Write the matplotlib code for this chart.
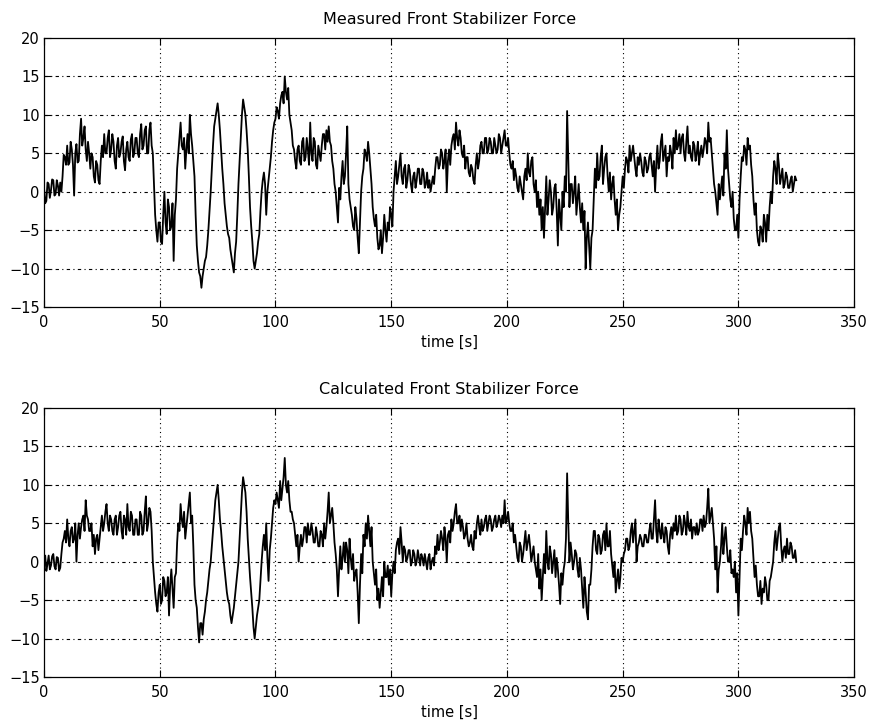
import matplotlib
matplotlib.use('Agg')
import matplotlib.pyplot as plt
import numpy as np

plt.rcParams['font.family'] = ['DejaVu Sans']

# Forces read at whole seconds (t = 0, 1, 2, ...)
measured = [
    0.5, -1.2, 1.0, 0.2, 1.5, -0.3, 0.8, 1.2, 2.0, 4.5,
    6.0, 3.8, 5.5, -0.5, 6.2, 4.0, 9.5, 7.0, 5.5, 6.5,
    3.0, 4.5, 1.2, 3.5, 1.0, 6.0, 7.5, 5.0, 8.0, 5.5,
    6.5, 3.0, 7.0, 5.0, 7.2, 2.8, 6.5, 4.0, 7.5, 5.0,
    7.0, 4.5, 8.8, 6.0, 8.5, 5.0, 9.0, 5.0, -3.0, -6.5,
    -4.0, -6.8, 0.0, -5.5, -2.0, -4.5, -9.0, -1.0, 5.0, 9.0,
    5.5, 3.0, 7.5, 10.0, 6.0, 2.0, -7.0, -10.5, -12.5, -10.0,
    -8.5, -5.0, 0.0, 6.0, 9.5, 11.5, 8.0, 3.0, -1.5, -4.5,
    -6.0, -8.5, -10.5, -6.5, 1.0, 7.0, 12.0, 10.0, 5.5, -2.0,
    -6.5, -10.0, -8.0, -5.5, 0.0, 2.5, -3.0, 1.5, 4.5, 8.0,
    9.5, 10.5, 11.5, 13.0, 15.0, 12.0, 10.0, 8.0, 5.5, 3.0,
    6.0, 3.5, 7.0, 4.5, 5.5, 9.0, 4.0, 6.5, 3.0, 5.0,
    6.0, 7.5, 8.0, 8.5, 6.0, 3.0, 0.0, -4.0, -1.0, 4.0,
    2.0, 8.5, -1.0, -3.0, -5.0, -3.5, -8.0, 0.0, 3.0, 5.0,
    6.5, 3.0, -2.0, -4.5, -6.0, -7.0, -8.0, -3.0, -6.5, -5.0,
    -3.0, 0.0, 4.0, 2.0, 5.0, 1.0, 3.5, 1.5, 2.8, 0.0,
    2.5, 1.5, 3.0, 1.0, 2.5, 1.0, 0.5, 0.0, 2.0, 3.0,
    4.5, 3.5, 5.0, 4.0, 0.0, 5.5, 6.0, 7.5, 9.0, 6.0,
    7.0, 4.5, 3.0, 4.5, 2.0, 3.0, 1.0, 5.0, 4.0, 6.5,
    5.0, 7.0, 5.5, 6.5, 5.0, 6.0, 5.5, 7.0, 6.0, 8.0,
    6.0, 5.0, 3.0, 1.5, 2.0, 0.0, 1.0, -1.0, 3.0, 5.0,
    2.0, 4.5, 0.0, -2.0, -3.0, -5.0, -6.0, 2.0, -1.0, 0.0,
    -2.0, 1.0, -7.0, -3.0, 0.0, 2.0, 10.5, -2.0, 1.0, 0.0,
    -3.0, 1.0, -4.0, -5.0, -10.0, -4.0, -10.0, -5.0, 3.0, 5.0,
    2.0, 6.0, 3.0, 5.0, 0.0, -1.0, 2.0, -3.0, -5.0, -2.0,
    2.0, 3.0, 4.0, 6.0, 5.0, 4.5, 2.0, 3.5, 4.0, 2.0,
    4.0, 3.0, 5.0, 2.0, 0.0, 6.0, 4.0, 7.5, 5.0, 2.0,
    4.0, 5.0, 7.0, 8.0, 6.0, 5.0, 7.5, 4.0, 8.5, 6.0,
    4.0, 6.0, 5.0, 3.5, 6.0, 5.5, 6.5, 9.0, 7.0, 3.0,
    0.0, -3.0, -1.0, 2.0, 5.0, 8.0, 1.0, -2.0, -3.5, -5.0,
    -6.0, 2.0, 4.0, 5.5, 7.0, 6.0, 2.0, -3.0, -5.0, -7.0,
    -5.0, -3.0, -6.5, -5.0, 0.0, 2.0, 3.0, 5.0, 1.0, 3.0,
    1.0, 2.0, 0.5, 2.0, 1.0, 1.5,
]

# Forces read at half seconds (t = 0.5, 1.5, 2.5, ...)
measured_half = [
    -1.5, 1.2, -0.8, 1.6, -0.5, 1.5, -0.5, 0.0, 4.8, 3.5,
    3.5, 6.5, 3.5, 5.0, 3.8, 7.5, 6.0, 8.5, 4.0, 5.0,
    5.0, 2.0, 4.0, 1.5, 4.0, 4.5, 5.0, 7.0, 4.5, 7.5,
    4.0, 6.0, 4.5, 6.5, 4.0, 5.5, 4.5, 6.8, 4.5, 7.0,
    5.0, 7.5, 5.5, 8.0, 5.0, 8.0, 6.0, 1.0, -5.0, -4.0,
    -6.5, -3.0, -4.0, -1.0, -5.0, -1.5, -3.0, 3.0, 7.0, 6.0,
    7.0, 5.5, 5.0, 7.5, 4.0, -3.0, -9.0, -11.0, -11.0, -9.0,
    -7.0, -2.5, 3.0, 8.5, 10.5, 10.0, 5.5, 1.0, -3.0, -5.5,
    -7.5, -9.5, -8.0, -3.0, 4.0, 10.0, 11.0, 8.0, 2.0, -4.5,
    -9.0, -9.0, -6.5, -2.5, 1.5, 1.0, 0.0, 3.0, 6.5, 9.0,
    11.0, 9.5, 12.5, 11.5, 13.0, 13.5, 9.0, 6.0, 4.0, 5.5,
    4.0, 6.5, 4.0, 7.0, 3.5, 5.0, 7.0, 3.5, 6.0, 4.0,
    7.5, 5.5, 6.5, 6.5, 4.0, 1.0, -2.0, 0.5, 2.0, 1.0,
    5.0, 1.0, -2.0, -4.5, -2.0, -6.0, -4.0, 2.0, 5.5, 4.0,
    5.0, 1.0, -3.5, -3.0, -7.5, -5.0, -6.0, -5.0, -4.0, -2.0,
    -4.5, 2.0, 1.0, 3.5, 2.0, 3.0, 0.5, 3.5, 1.0, 2.0,
    0.5, 3.0, 1.0, 3.0, 0.5, 2.5, 1.5, 1.0, 1.0, 4.5,
    3.0, 5.5, 3.0, 5.5, 4.0, 3.5, 7.0, 5.5, 7.0, 8.0,
    5.0, 6.0, 4.5, 2.5, 3.5, 1.5, 3.5, 3.0, 6.0, 5.0,
    7.0, 5.0, 7.0, 5.0, 7.0, 5.0, 7.5, 5.0, 7.0, 6.0,
    7.0, 3.5, 4.0, 3.0, 0.5, 2.0, 0.0, 2.0, 1.5, 2.5,
    4.0, 1.0, 1.5, 0.0, -1.0, -2.0, -2.0, -3.0, 1.5, -3.0,
    0.5, -2.5, -1.0, -5.0, -2.0, 0.0, 4.0, 1.0, -1.5, 2.0,
    -1.0, -2.0, -1.5, -2.5, -6.0, -7.0, -6.0, -1.0, 0.5, 1.5,
    4.5, 1.0, 4.5, 2.0, 2.5, 1.0, -1.0, -1.0, -3.0, 0.0,
    0.5, 4.5, 2.5, 4.0, 6.0, 3.0, 4.5, 5.0, 2.5, 4.5,
    2.5, 4.5, 3.5, 4.0, 3.5, 3.0, 6.5, 4.0, 6.0, 4.5,
    6.0, 3.0, 5.0, 5.5, 7.5, 7.0, 5.0, 6.5, 5.0, 4.5,
    6.5, 4.0, 6.5, 5.0, 4.5, 7.0, 5.0, 6.5, 5.0, 1.0,
    -1.5, 1.0, 0.5, -0.5, 3.0, 3.0, -1.0, 0.0, -5.0, -3.0,
    -1.0, 4.5, 6.0, 3.5, 5.5, 3.5, -1.0, -1.5, -6.5, -4.5,
    -6.5, -4.0, -3.0, -2.0, -1.5, 4.0, 1.0, 3.5, 2.0, 0.5,
    2.5, 0.5, 1.5, 0.0, 2.0,
]

calculated = [
    0.0, -1.2, 0.8, -0.5, 1.0, -1.0, 0.5, -0.8, 2.5, 4.0,
    5.5, 2.0, 4.5, 3.0, 0.0, 5.0, 4.5, 6.0, 8.0, 5.5,
    4.0, 2.0, 1.0, 3.5, 3.0, 6.0, 5.0, 7.5, 4.0, 5.5,
    3.5, 6.0, 4.5, 6.5, 3.0, 5.5, 7.5, 4.0, 6.0, 3.5,
    5.5, 3.5, 6.0, 4.0, 8.5, 5.0, 6.5, 0.0, -4.0, -6.5,
    -3.0, -5.0, -2.5, -4.0, -7.0, -1.0, -6.0, -1.5, 5.0, 7.5,
    4.5, 3.0, 6.0, 9.0, 6.0, -3.0, -6.0, -10.5, -8.0, -7.5,
    -5.0, -2.5, 0.0, 4.0, 8.0, 10.0, 5.5, 2.0, -1.0, -4.0,
    -5.5, -8.0, -6.0, -3.0, 0.0, 6.0, 11.0, 9.0, 3.0, -2.0,
    -6.0, -10.0, -7.0, -5.0, 0.0, 3.5, 5.0, -2.5, 3.0, 7.0,
    7.5, 8.0, 10.5, 9.5, 13.5, 9.0, 8.0, 6.5, 5.0, 2.0,
    0.0, 3.5, 3.0, 4.5, 5.0, 3.5, 4.0, 2.5, 3.5, 2.0,
    3.5, 5.0, 4.5, 9.0, 6.0, 5.0, 1.0, -4.5, 2.0, 0.5,
    0.0, 1.5, 3.0, -1.0, -2.5, -1.0, -8.0, 1.0, 3.5, 5.0,
    6.0, 2.0, 0.0, -3.0, -5.0, -6.0, -2.0, 0.0, -2.0, -3.0,
    -4.5, 0.0, 1.5, 3.0, 4.5, 0.0, 1.5, 0.5, 1.5, 0.0,
    1.0, 0.0, 0.5, 1.0, -0.5, 0.0, 0.5, -1.0, 0.5, 2.0,
    3.5, 2.5, 3.0, 4.5, 0.0, 4.0, 5.5, 5.0, 7.5, 5.0,
    4.0, 4.5, 3.5, 3.0, 2.5, 2.0, 4.0, 5.0, 4.5, 5.5,
    4.5, 6.0, 5.0, 5.5, 4.5, 6.0, 5.0, 5.5, 6.0, 8.0,
    5.5, 5.0, 4.0, 2.5, 2.0, 0.0, 2.0, 1.0, 4.0, 2.5,
    2.0, 1.0, 0.0, -2.0, -3.5, -5.0, 1.0, 4.0, -1.0, 1.0,
    0.0, -2.0, -1.0, -5.5, -3.0, 0.0, 11.5, 0.0, 1.0, 0.0,
    1.0, -2.0, -1.0, -6.0, -4.0, -7.5, -3.0, 2.0, 4.0, 1.0,
    3.0, 1.5, 4.0, 5.0, 2.0, 1.0, -2.0, -4.0, -1.0, -2.0,
    0.0, 1.5, 3.0, 2.0, 5.0, 4.0, 0.0, 2.5, 3.0, 2.0,
    3.5, 2.5, 5.0, 3.0, 8.0, 2.5, 4.0, 5.0, 2.5, 4.0,
    1.0, 4.5, 5.0, 6.0, 4.0, 5.5, 4.0, 5.0, 6.5, 4.0,
    3.0, 4.5, 5.0, 4.0, 5.5, 6.0, 5.0, 9.5, 6.0, 5.0,
    -1.0, -4.0, 0.0, 5.0, 3.0, 2.0, 0.0, -1.5, -2.0, -4.0,
    -7.0, 3.0, 4.0, 5.0, 7.0, 6.5, 3.0, -2.0, -3.0, -4.5,
    -5.5, -4.0, -3.0, -5.0, -2.0, 0.0, 4.0, 3.0, 5.0, 0.0,
    2.0, 3.0, 1.0, 2.0, 0.5, 0.0,
]

calculated_half = [
    0.8, -0.3, -1.0, 0.7, -0.6, 0.6, -1.2, 1.0, 3.0, 2.5,
    3.0, 4.0, 2.5, 5.0, 3.5, 3.0, 5.5, 4.0, 6.0, 4.0,
    5.0, 3.5, 3.0, 1.5, 4.5, 4.0, 6.5, 5.0, 6.0, 4.0,
    5.5, 3.5, 6.0, 4.0, 6.0, 3.5, 4.5, 6.5, 3.5, 5.5,
    3.5, 6.5, 3.5, 6.5, 4.0, 7.0, 4.0, -2.0, -5.5, -4.0,
    -5.5, -2.0, -4.5, -2.0, -3.0, -3.5, -2.0, 2.5, 4.0, 5.5,
    6.5, 4.5, 7.5, 5.0, 2.0, -5.0, -8.5, -8.0, -9.5, -6.5,
    -4.0, -1.0, 2.0, 6.0, 9.0, 8.0, 4.0, 0.5, -2.5, -5.0,
    -7.0, -7.0, -4.5, -1.5, 3.0, 9.0, 10.0, 6.5, 0.5, -4.0,
    -8.5, -8.5, -6.0, -2.5, 2.0, 1.5, 0.5, 1.5, 5.0, 8.0,
    9.0, 7.0, 8.0, 11.0, 10.0, 10.5, 6.5, 5.5, 3.5, 3.5,
    2.0, 2.0, 4.5, 2.5, 3.5, 5.0, 2.5, 4.5, 2.0, 4.0,
    2.0, 3.0, 6.5, 5.0, 7.0, 2.5, -1.0, -1.0, -1.0, 2.5,
    2.5, -1.5, 0.5, 1.0, -1.5, -4.0, -3.0, -1.5, 2.0, 3.0,
    4.0, 4.5, -1.5, -1.0, -3.5, -4.0, -4.5, -2.0, -0.5, -1.0,
    -1.5, -1.5, 2.5, 1.0, 2.5, 2.0, 0.0, 1.5, -0.5, 1.5,
    -0.5, 1.5, -0.5, 0.5, 1.0, -1.0, 1.0, 0.0, -0.5, 1.0,
    1.5, 4.0, 1.5, 3.0, 3.5, 2.5, 4.0, 6.5, 5.0, 6.0,
    5.5, 3.0, 5.0, 2.0, 3.5, 1.5, 3.0, 6.0, 3.5, 4.0,
    5.5, 4.0, 6.0, 4.0, 5.5, 4.5, 6.0, 4.5, 5.0, 5.0,
    6.5, 4.0, 5.0, 3.5, 0.5, 2.5, 0.0, 2.5, 1.5, 3.5,
    0.0, 2.0, -1.0, 1.0, -1.0, -2.0, -1.5, 0.0, 2.0, -1.5,
    1.5, 0.5, -3.0, -1.5, -1.0, 3.0, 5.0, 2.5, -1.0, 1.5,
    -1.0, 0.5, -3.5, -2.0, -6.5, -3.0, -1.0, 4.0, 1.5, 3.5,
    1.0, 3.5, 1.5, 2.0, 4.0, -0.5, 0.0, -2.5, -3.5, 0.5,
    1.0, 3.0, 1.5, 4.0, 2.5, 5.5, 2.0, 3.5, 2.0, 3.5,
    2.5, 4.0, 3.0, 5.5, 4.0, 5.5, 3.0, 3.5, 4.5, 2.0,
    3.5, 3.0, 4.0, 3.5, 6.0, 3.5, 6.0, 3.5, 4.5, 5.5,
    4.5, 3.5, 3.5, 5.5, 4.0, 4.5, 7.0, 5.0, 7.0, 3.0,
    2.0, -1.0, 2.0, 1.0, 4.5, 0.0, 1.5, -1.0, 0.0, -1.5,
    -2.0, 1.5, 6.0, 3.5, 5.0, 4.0, 0.5, -0.5, -4.5, -2.5,
    -3.5, -2.0, -5.0, -2.5, -1.0, 2.5, 1.5, 4.5, 2.0, 1.5,
    0.5, 1.0, 2.5, 0.5, 1.5,
]

titles = ['Measured Front Stabilizer Force', 'Calculated Front Stabilizer Force']
xticks = [0, 50, 100, 150, 200, 250, 300, 350]
yticks = [-15, -10, -5, 0, 5, 10, 15, 20]


def merge(full, half):
    # put whole-second and half-second readings in time order
    t = np.concatenate([np.arange(len(full)), np.arange(len(half)) + 0.5])
    y = np.concatenate([full, half])
    order = np.argsort(t)
    return t[order], y[order]


def panel(ax, full, half, title):
    t, y = merge(full, half)
    ax.plot(t, y, color='k', linewidth=1.3)
    ax.set_xlim(0, 350)
    ax.set_ylim(-15, 20)
    ax.set_xticks(xticks)
    ax.set_yticks(yticks)
    ax.set_yticklabels([str(v).replace('-', '\u2212') for v in yticks])
    # MATLAB style grid: dotted verticals, dash-dot horizontals
    for x in xticks[1:-1]:
        ax.axvline(x, color='k', linewidth=0.8, linestyle=(0, (1, 3)))
    for v in yticks[1:-1]:
        ax.axhline(v, color='k', linewidth=0.8, linestyle=(0, (3, 3, 1, 3)))
    ax.tick_params(direction='in', top=True, right=True, length=5, width=0.8,
                   labelsize=10.5, pad=3)
    ax.tick_params(axis='x', pad=6)
    ax.set_title(title, fontsize=11.5, pad=10)
    ax.set_xlabel('time [s]', fontsize=10.5, labelpad=3)
    for s in ax.spines.values():
        s.set_linewidth(0.9)


fig = plt.figure(figsize=(8.72, 7.27), dpi=100)
ax1 = fig.add_axes([0.0505, 0.5777, 0.929, 0.370])
ax2 = fig.add_axes([0.0505, 0.0688, 0.929, 0.370])
panel(ax1, measured, measured_half, titles[0])
panel(ax2, calculated, calculated_half, titles[1])

fig.savefig('out.png', dpi=100)
